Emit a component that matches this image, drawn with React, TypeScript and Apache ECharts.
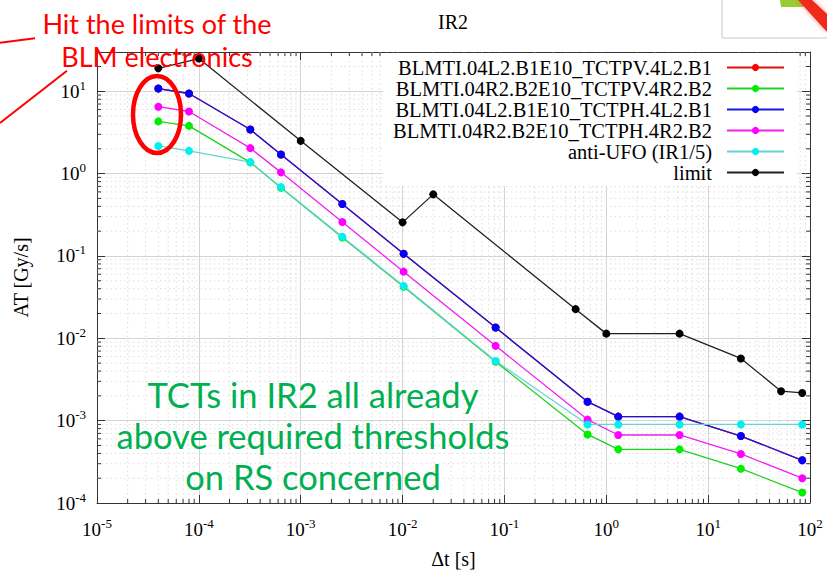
import React, { useEffect, useRef } from 'react';
import * as echarts from 'echarts';

// ---- data ----
const rsTimes = [4e-5, 8e-5, 3.2e-4, 6.4e-4, 2.56e-3, 1.024e-2, 8.192e-2, 0.65536, 1.31072, 5.24288, 20.97152, 83.88608];
const tctpv4L2B1 = [10.8, 9.4, 3.43, 1.71, 0.428, 0.1066, 0.0135, 0.0017, 0.00112, 0.00112, 0.00065, 0.00033];
const tctpv4R2B2 = [4.31, 3.8, 1.37, 0.675, 0.168, 0.0423, 0.0052, 0.00068, 0.000448, 0.000448, 0.000261, 0.000134];
const tctph4L2B1 = [10.8, 9.4, 3.43, 1.71, 0.428, 0.1066, 0.0135, 0.0017, 0.00112, 0.00112, 0.00065, 0.00033];
const tctph4R2B2 = [6.5, 5.68, 2.04, 1.036, 0.259, 0.0645, 0.0081, 0.00103, 0.00067, 0.00067, 0.000394, 0.0002];
const antiUfo = [2.17, 1.89, 1.38, 0.685, 0.1715, 0.0431, 0.0053, 0.0009, 0.0009, 0.0009, 0.0009, 0.0009];
const limitTimes = [4e-5, 1e-4, 1e-3, 1e-2, 2e-2, 0.5, 1.0, 5.24, 20.97, 52, 83.9];
const limitValues = [19, 25, 2.5, 0.256, 0.56, 0.0226, 0.0114, 0.0114, 0.0057, 0.00228, 0.00217];

const seriesNames = [
  'BLMTI.04L2.B1E10_TCTPV.4L2.B1',
  'BLMTI.04R2.B2E10_TCTPV.4R2.B2',
  'BLMTI.04L2.B1E10_TCTPH.4L2.B1',
  'BLMTI.04R2.B2E10_TCTPH.4R2.B2',
  'anti-UFO (IR1/5)',
  'limit',
];
const markerColors = ['#ff0000', '#00ee00', '#0000ff', '#ff00ff', '#00f0f0', '#000000'];
const lineColors = ['#e01010', '#20d020', '#1818e0', '#f020f0', '#66d4d4', '#202020'];

const X_MIN = 1e-5;
const X_MAX = 100;
const Y_MIN = 1e-4;
const Y_MAX = 30;

const SERIF = '"Liberation Serif", "DejaVu Serif", serif';
const SANS = 'Lato, "Liberation Sans", sans-serif';

const pairs = (xs: number[], ys: number[]) => xs.map((x, i) => [x, ys[i]]);

function minorValues(lo: number, hi: number): number[] {
  const out: number[] = [];
  for (let e = Math.floor(Math.log10(lo)); e <= Math.ceil(Math.log10(hi)); e++) {
    for (let m = 2; m <= 9; m++) {
      const v = m * Math.pow(10, e);
      if (v > lo && v < hi) out.push(v);
    }
  }
  return out;
}

const powLabel = (v: number) => {
  const e = Math.log10(v);
  const r = Math.round(e);
  if (Math.abs(e - r) > 1e-6) return '';
  return `{b|10}{s|${r}}`;
};

const labelRich = {
  b: { fontFamily: SERIF, fontSize: 19, color: '#000' },
  s: { fontFamily: SERIF, fontSize: 13, color: '#000', padding: [0, 0, 12, 0] },
};

export default function App() {
  const ref = useRef<HTMLDivElement>(null);
  useEffect(() => {
    const chart = echarts.init(ref.current!, null, { renderer: 'svg' });
    const minorX = minorValues(X_MIN, X_MAX);
    const minorY = minorValues(Y_MIN, Y_MAX);

    const dataSets = [tctpv4L2B1, tctpv4R2B2, tctph4L2B1, tctph4R2B2, antiUfo];
    const lineSeries: any[] = dataSets.map((ys, i) => ({
      type: 'line',
      name: seriesNames[i],
      data: pairs(rsTimes, ys),
      symbol: 'circle',
      symbolSize: 8,
      showSymbol: true,
      z: 3,
      itemStyle: { color: markerColors[i] },
      lineStyle: { color: lineColors[i], width: 1.3 },
    }));
    lineSeries.push({
      type: 'line',
      name: seriesNames[5],
      data: pairs(limitTimes, limitValues),
      symbol: 'circle',
      symbolSize: 8,
      z: 3,
      itemStyle: { color: markerColors[5] },
      lineStyle: { color: lineColors[5], width: 1.3 },
    });

    const gridSeries = {
      type: 'custom',
      name: 'minor-grid',
      silent: true,
      z: 1,
      data: [[1e-3, 1]],
      renderItem: (_p: any, api: any) => {
        const children: any[] = [];
        const dotted = { stroke: '#dedede', lineWidth: 1, lineDash: [1.5, 3] };
        const tick = { stroke: '#333', lineWidth: 1 };
        minorX.forEach((v) => {
          const t = api.coord([v, Y_MAX]);
          const b = api.coord([v, Y_MIN]);
          children.push({ type: 'line', shape: { x1: t[0], y1: t[1], x2: b[0], y2: b[1] }, style: dotted });
          children.push({ type: 'line', shape: { x1: b[0], y1: b[1], x2: b[0], y2: b[1] - 4 }, style: tick });
          children.push({ type: 'line', shape: { x1: t[0], y1: t[1], x2: t[0], y2: t[1] + 4 }, style: tick });
        });
        minorY.forEach((v) => {
          const l = api.coord([X_MIN, v]);
          const r = api.coord([X_MAX, v]);
          children.push({ type: 'line', shape: { x1: l[0], y1: l[1], x2: r[0], y2: r[1] }, style: dotted });
          children.push({ type: 'line', shape: { x1: l[0], y1: l[1], x2: l[0] + 4, y2: l[1] }, style: tick });
          children.push({ type: 'line', shape: { x1: r[0], y1: r[1], x2: r[0] - 4, y2: r[1] }, style: tick });
        });
        return { type: 'group', children };
      },
    };

    const axisCommon = {
      type: 'log',
      logBase: 10,
      axisLine: { show: true, lineStyle: { color: '#333', width: 1 } },
      axisTick: { show: true, inside: true, length: 8, lineStyle: { color: '#333' } },
      minorTick: { show: false },
    };

    const option: any = {
      animation: false,
      backgroundColor: '#ffffff',
      grid: { left: 97, right: 17, top: 52, bottom: 64, containLabel: false },
      xAxis: [
        {
          ...axisCommon,
          min: X_MIN,
          max: X_MAX,
          splitNumber: 7,
          position: 'bottom',
          name: 'Δt [s]',
          nameLocation: 'middle',
          nameGap: 46,
          nameTextStyle: { fontFamily: SERIF, fontSize: 20, color: '#000' },
          axisLabel: { formatter: powLabel, rich: labelRich, margin: 14 },
          splitLine: { show: true, lineStyle: { color: '#d4d4d4', width: 1 } },
        },
        {
          ...axisCommon,
          min: X_MIN,
          max: X_MAX,
          splitNumber: 7,
          position: 'top',
          axisLabel: { show: false },
          splitLine: { show: false },
        },
      ],
      yAxis: [
        {
          ...axisCommon,
          min: Y_MIN,
          max: Y_MAX,
          splitNumber: 5,
          position: 'left',
          name: 'AT [Gy/s]',
          nameLocation: 'middle',
          nameGap: 66,
          nameTextStyle: { fontFamily: SERIF, fontSize: 20, color: '#000' },
          axisLabel: { formatter: powLabel, rich: labelRich, margin: 11 },
          splitLine: { show: true, lineStyle: { color: '#d4d4d4', width: 1 } },
        },
        {
          ...axisCommon,
          min: Y_MIN,
          max: Y_MAX,
          splitNumber: 5,
          position: 'right',
          axisLabel: { show: false },
          splitLine: { show: false },
        },
      ],
      legend: {
        data: seriesNames,
        orient: 'vertical',
        align: 'right',
        right: 30,
        top: 53,
        itemWidth: 57,
        itemHeight: 9,
        itemGap: 0,
        padding: [4, 12, 3, 10],
        backgroundColor: '#ffffff',
        selectedMode: false,
        textStyle: { fontFamily: SERIF, fontSize: 20.5, lineHeight: 20, color: '#000', padding: [0, 10, 0, 0] },
      },
      series: [gridSeries, ...lineSeries],
      graphic: [
        { type: 'text', z: 100, style: { text: 'IR2', x: 453, y: 22, font: `20px ${SERIF}`, fill: '#000', textAlign: 'center', textVerticalAlign: 'middle' } },
        // thumbnail in the corner
        { type: 'rect', z: 100, shape: { x: 722, y: -5, width: 120, height: 43 }, style: { fill: '#fff', stroke: '#c8c8c8', lineWidth: 1 } },
        { type: 'polygon', z: 101, shape: { points: [[780, 0], [808, 0], [803, 7], [781, 7]] }, style: { fill: '#9acd32' } },
        { type: 'polygon', z: 102, shape: { points: [[798, 0], [812, 0], [827, 14], [827, 32]] }, style: { fill: '#ee2a1a', shadowBlur: 5, shadowColor: 'rgba(255,60,40,0.6)' } },
        // red annotation
        { type: 'text', z: 100, style: { text: 'Hit the limits of the', x: 157, y: 23, font: `27px ${SANS}`, fill: '#ff0000', textAlign: 'center', textVerticalAlign: 'middle' } },
        { type: 'text', z: 100, style: { text: 'BLM electronics', x: 157, y: 56, font: `27px ${SANS}`, fill: '#ff0000', textAlign: 'center', textVerticalAlign: 'middle' } },
        { type: 'line', z: 100, shape: { x1: 0, y1: 42.7, x2: 35, y2: 38.3 }, style: { stroke: '#ff0000', lineWidth: 2 } },
        { type: 'line', z: 100, shape: { x1: 0, y1: 123, x2: 67, y2: 70.7 }, style: { stroke: '#ff0000', lineWidth: 2 } },
        { type: 'ellipse', z: 100, shape: { cx: 157, cy: 114.5, rx: 24, ry: 38.5 }, style: { fill: 'rgba(0,0,0,0)', stroke: '#ff0000', lineWidth: 4.5 } },
        // green annotation
        { type: 'text', z: 100, style: { text: 'TCTs in IR2 all already', x: 313, y: 394, font: `34.5px ${SANS}`, fill: '#00b050', textAlign: 'center', textVerticalAlign: 'middle' } },
        { type: 'text', z: 100, style: { text: 'above required thresholds', x: 313, y: 435, font: `34.5px ${SANS}`, fill: '#00b050', textAlign: 'center', textVerticalAlign: 'middle' } },
        { type: 'text', z: 100, style: { text: 'on RS concerned', x: 313, y: 476, font: `34.5px ${SANS}`, fill: '#00b050', textAlign: 'center', textVerticalAlign: 'middle' } },
      ],
    };
    chart.setOption(option);
    return () => chart.dispose();
  }, []);
  return <div ref={ref} style={{ position: 'fixed', left: 0, top: 0, width: 827, height: 574, background: '#fff' }} />;
}
